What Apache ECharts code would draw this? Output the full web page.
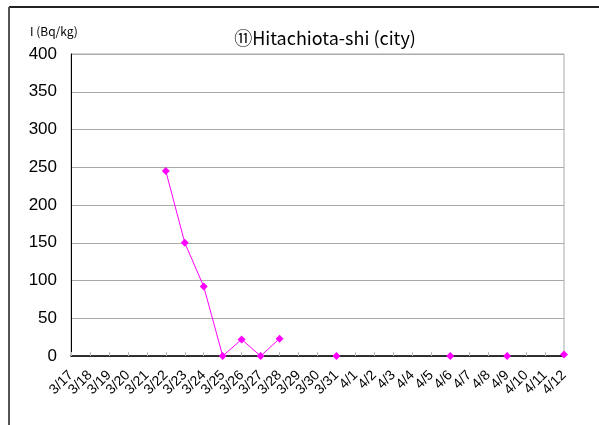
<!DOCTYPE html>
<html>
<head>
<meta charset="utf-8">
<script src="https://cdn.jsdelivr.net/npm/echarts@6/dist/echarts.min.js"></script>
<style>
  html, body { margin: 0; padding: 0; background: #fff; }
  #chart { width: 599px; height: 425px; }
</style>
</head>
<body>
<div id="chart"></div>
<script>
// 日付 (3/17 - 4/12)
const dates = ['3/17', '3/18', '3/19', '3/20', '3/21', '3/22', '3/23', '3/24', '3/25',
  '3/26', '3/27', '3/28', '3/29', '3/30', '3/31', '4/1', '4/2', '4/3', '4/4', '4/5',
  '4/6', '4/7', '4/8', '4/9', '4/10', '4/11', '4/12']
// ヨウ素 I (Bq/kg), null = 測定なし
const iodine = [null, null, null, null, null, 245, 150, 92, 0,
  22, 0, 23, null, null, 0, null, null, null, null, null,
  0, null, null, 0, null, null, 2]
const yTicks = { min: 0, max: 400, interval: 50 }

const myChart = echarts.init(document.getElementById('chart'))
const option = {
  animation: false,
  backgroundColor: '#fff',
  title: {
    text: '⑪Hitachiota-shi (city)',
    left: 320,
    textAlign: 'center',
    top: 24,
    textStyle: { fontFamily: 'Noto Sans CJK JP', fontSize: 18, fontWeight: 'normal', color: '#000' }
  },
  graphic: [
    { type: 'line', shape: { x1: 9, y1: 7, x2: 599, y2: 7 }, style: { stroke: '#222', lineWidth: 2 } },
    { type: 'line', shape: { x1: 9, y1: 7, x2: 9, y2: 425 }, style: { stroke: '#555', lineWidth: 2 } },
    {
      type: 'text', left: 30, top: 25,
      style: { text: 'I (Bq/kg)', font: '12px "Noto Sans CJK JP"', fill: '#000' }
    }
  ],
  grid: {
    left: 71, right: 35, top: 54, bottom: 69,
    show: true, borderColor: '#aaa', borderWidth: 1, backgroundColor: 'transparent'
  },
  xAxis: {
    type: 'category',
    data: dates,
    boundaryGap: false,
    axisLine: { lineStyle: { color: '#000', width: 1.5 } },
    axisTick: { inside: true, length: 4, lineStyle: { color: '#bbb' } },
    axisLabel: {
      interval: 0, rotate: 45, margin: 17,
      fontFamily: 'Liberation Sans', fontSize: 14, color: '#000'
    },
    splitLine: { show: false }
  },
  yAxis: {
    type: 'value',
    min: yTicks.min, max: yTicks.max, interval: yTicks.interval,
    axisLine: { show: true, lineStyle: { color: '#000', width: 1 } },
    axisTick: { show: false },
    axisLabel: { margin: 14, fontFamily: 'Liberation Sans', fontSize: 17, color: '#000' },
    splitLine: { lineStyle: { color: '#aaa', width: 1 } }
  },
  series: [
    {
      name: 'I',
      type: 'line',
      data: iodine,
      connectNulls: false,
      symbol: 'diamond',
      symbolSize: 8,
      showSymbol: true,
      color: '#ff00ff',
      lineStyle: { color: '#ff00ff', width: 1 },
      itemStyle: { color: '#ff00ff' }
    }
  ]
}
myChart.setOption(option)
window.addEventListener('resize', function () {
  myChart.resize()
})
</script>
</body>
</html>
